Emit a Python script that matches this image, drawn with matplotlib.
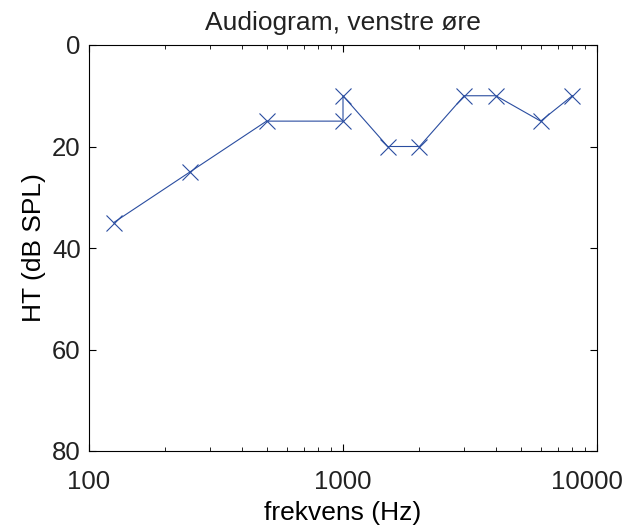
import matplotlib
matplotlib.use("Agg")
import matplotlib.pyplot as plt
import matplotlib.transforms as mtransforms
from matplotlib.ticker import FixedLocator, FixedFormatter, LogLocator, NullFormatter

plt.rcParams['font.family'] = ['Liberation Sans', 'DejaVu Sans']
plt.rcParams['text.color'] = '#222222'

freq = [125, 250, 500, 1000, 1000, 1500, 2000, 3000, 4000, 6000, 8000]
ht = [35, 25, 15, 15, 10, 20, 20, 10, 10, 15, 10]
xticks = [100, 1000, 10000]
xticklabels = ['100', '1000', '10000']
yticks = [0, 20, 40, 60, 80]

fig = plt.figure(figsize=(6.29, 5.30), dpi=100)
ax = fig.add_axes([89/629, 1-451/530, (597-89)/629, (451-45)/530])
ax.plot(freq, ht, color='#2a4da0', lw=0.8, marker='x', markersize=12, markeredgewidth=0.8)
ax.set_xscale('log')
ax.set_xlim(100, 10000)
ax.set_ylim(80, 0)
ax.xaxis.set_major_locator(FixedLocator(xticks))
ax.xaxis.set_major_formatter(FixedFormatter(xticklabels))
ax.xaxis.set_minor_locator(LogLocator(base=10, subs=range(2, 10)))
ax.xaxis.set_minor_formatter(NullFormatter())
ax.set_yticks(yticks)
ax.tick_params(which='both', direction='in', top=True, right=True, labelsize=18.5,
               colors='black', labelcolor='#222222')
ax.tick_params(which='major', length=5, width=0.8)
ax.tick_params(axis='x', which='major', pad=13.5)
ax.tick_params(axis='y', which='major', pad=6)
ax.tick_params(which='minor', length=3, width=0.6)
for s in ax.spines.values():
    s.set_linewidth(0.8)
ax.set_title('Audiogram, venstre øre', fontsize=19, pad=11)
ax.set_xlabel('frekvens (Hz)', fontsize=19, labelpad=5)
ax.set_ylabel('HT (dB SPL)', fontsize=19, labelpad=4)

# keep the last tick label inside the figure (as in the reference)
fig.canvas.draw()
last = ax.get_xticklabels()[-1]
last.set_transform(last.get_transform() + mtransforms.ScaledTranslation(-10/100, 0, fig.dpi_scale_trans))
fig.savefig('out.png', dpi=100)
